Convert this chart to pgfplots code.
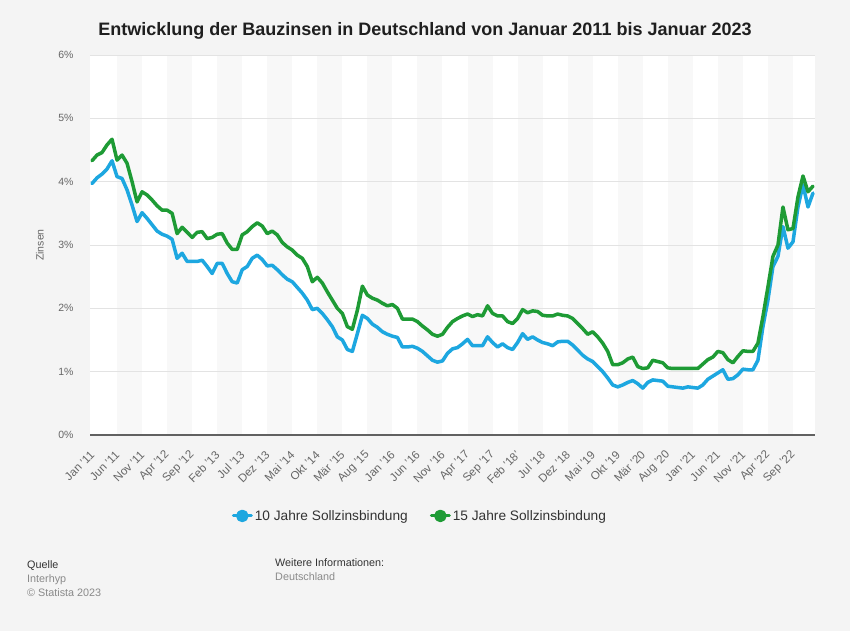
\documentclass[border=0pt]{standalone}
\usepackage{pgfplots}
\usepackage{pgfplotstable}
\pgfplotsset{compat=1.18}
\usepackage{fontspec}
\setmainfont{Liberation Sans}
\definecolor{pagebg}{HTML}{F4F4F4}
\definecolor{stripe}{HTML}{F8F8F8}
\definecolor{bblue}{HTML}{1DA7E0}
\definecolor{bgreen}{HTML}{1E9B35}
\definecolor{ticktext}{HTML}{666666}
\definecolor{darktext}{HTML}{333333}
\definecolor{foottext}{HTML}{8A8A8A}

\pgfplotstableread{
m a b
0 3.97 4.33
1 4.06 4.42
2 4.12 4.46
3 4.20 4.58
4 4.33 4.67
5 4.08 4.34
6 4.05 4.42
7 3.87 4.29
8 3.63 4.00
9 3.37 3.68
10 3.51 3.84
11 3.42 3.79
12 3.32 3.71
13 3.22 3.62
14 3.17 3.55
15 3.14 3.55
16 3.09 3.50
17 2.79 3.18
18 2.87 3.28
19 2.74 3.20
20 2.74 3.12
21 2.74 3.20
22 2.76 3.21
23 2.66 3.10
24 2.55 3.12
25 2.71 3.17
26 2.71 3.18
27 2.55 3.03
28 2.42 2.93
29 2.40 2.93
30 2.61 3.16
31 2.66 3.21
32 2.79 3.29
33 2.84 3.35
34 2.77 3.30
35 2.67 3.18
36 2.68 3.22
37 2.61 3.16
38 2.53 3.04
39 2.46 2.97
40 2.42 2.92
41 2.33 2.84
42 2.24 2.79
43 2.13 2.66
44 1.98 2.42
45 2.00 2.49
46 1.92 2.40
47 1.82 2.26
48 1.71 2.13
49 1.55 2.00
50 1.50 1.92
51 1.35 1.71
52 1.32 1.67
53 1.60 1.97
54 1.89 2.35
55 1.84 2.21
56 1.75 2.16
57 1.70 2.13
58 1.63 2.08
59 1.59 2.04
60 1.56 2.06
61 1.54 2.00
62 1.39 1.83
63 1.39 1.83
64 1.40 1.83
65 1.37 1.79
66 1.32 1.72
67 1.25 1.66
68 1.18 1.59
69 1.15 1.56
70 1.17 1.59
71 1.29 1.70
72 1.36 1.79
73 1.38 1.84
74 1.44 1.88
75 1.51 1.91
76 1.41 1.87
77 1.41 1.90
78 1.41 1.88
79 1.55 2.04
80 1.46 1.92
81 1.39 1.88
82 1.44 1.88
83 1.38 1.79
84 1.35 1.76
85 1.46 1.84
86 1.60 1.98
87 1.51 1.93
88 1.55 1.96
89 1.50 1.95
90 1.46 1.89
91 1.44 1.88
92 1.41 1.88
93 1.47 1.91
94 1.48 1.89
95 1.48 1.88
96 1.42 1.84
97 1.34 1.76
98 1.26 1.68
99 1.20 1.59
100 1.16 1.63
101 1.08 1.55
102 1.00 1.45
103 0.90 1.32
104 0.79 1.11
105 0.76 1.11
106 0.79 1.14
107 0.83 1.20
108 0.86 1.23
109 0.81 1.08
110 0.74 1.05
111 0.83 1.06
112 0.87 1.18
113 0.86 1.16
114 0.85 1.14
115 0.77 1.06
116 0.76 1.05
117 0.75 1.05
118 0.74 1.05
119 0.76 1.05
120 0.75 1.05
121 0.74 1.05
122 0.79 1.12
123 0.88 1.19
124 0.93 1.23
125 0.98 1.32
126 1.03 1.30
127 0.88 1.19
128 0.89 1.14
129 0.95 1.24
130 1.04 1.33
131 1.03 1.32
132 1.03 1.32
133 1.18 1.45
134 1.71 1.87
135 2.13 2.34
136 2.66 2.82
137 2.82 3.00
138 3.29 3.60
139 2.95 3.24
140 3.05 3.26
141 3.60 3.76
142 3.95 4.09
143 3.60 3.84
144 3.82 3.93
}\datatable

\begin{document}
\begin{tikzpicture}
\fill[pagebg] (0,0) rectangle (850bp,631bp);
\node[font=\bfseries\fontsize{18bp}{21bp}\selectfont, text=black!88] at (425bp,600bp)
  {Entwicklung der Bauzinsen in Deutschland von Januar 2011 bis Januar 2023};
\begin{axis}[
  at={(90bp,196bp)}, anchor=south west,
  scale only axis, width=725bp, height=380bp,
  xmin=-0.4, xmax=144.4, ymin=0, ymax=6,
  axis background/.style={fill=white, path picture={
    \foreach \k in {1,3,...,27} {
      \fill[stripe] ([xshift={(5*\k+0.4)*5.00691bp}]path picture bounding box.south west)
        rectangle ([xshift={(5*\k+5.4)*5.00691bp}]path picture bounding box.north west);
    }}},
  axis x line*=bottom, axis y line*=left,
  y axis line style={draw=none},
  x axis line style={line width=2bp, color=black!62},
  major tick length=0pt,
  ymajorgrids,
  grid style={line width=0.8bp, color=black!11},
  ytick={0,1,2,3,4,5,6},
  yticklabels={0\%,1\%,2\%,3\%,4\%,5\%,6\%},
  yticklabel style={font=\fontsize{10.5bp}{12bp}\selectfont, text=ticktext, anchor=east, xshift=-13bp},
  xtick={0,5,...,140},
  xticklabels={Jan '11,Jun '11,Nov '11,Apr '12,Sep '12,Feb '13,Jul '13,Dez '13,Mai '14,Okt '14,Mär '15,Aug '15,Jan '16,Jun '16,Nov '16,Apr '17,Sep '17,Feb '18',Jul '18,Dez '18,Mai '19,Okt '19,Mär '20,Aug '20,Jan '21,Jun '21,Nov '21,Apr '22,Sep '22},
  xticklabel style={rotate=45, anchor=east, font=\fontsize{11.5bp}{13bp}\selectfont, text=ticktext, xshift=-9bp, yshift=-13bp},
  ylabel={Zinsen},
  ylabel style={at={(axis description cs:-0.069,0.5)}, anchor=center, font=\fontsize{10.5bp}{12bp}\selectfont, text=ticktext},
  legend columns=2,
  legend style={at={(0.455,-0.213)}, anchor=center, draw=none, fill=none,
    font=\fontsize{13.7bp}{16bp}\selectfont, text=darktext,
    /tikz/every even column/.append style={column sep=20bp}},
  legend image code/.code={\draw[#1, line width=3bp] (0bp,0bp) -- (18bp,0bp); \fill[#1] (9bp,0bp) circle[radius=4.5bp];},
]
\addplot[bblue, line width=3.5bp, line join=round, line cap=round] table[x=m, y=a] {\datatable};
\addlegendentry{10 Jahre Sollzinsbindung}
\addplot[bgreen, line width=3.5bp, line join=round, line cap=round] table[x=m, y=b] {\datatable};
\addlegendentry{15 Jahre Sollzinsbindung}
\end{axis}
\begin{scope}[font=\fontsize{10.8bp}{12bp}\selectfont]
\node[anchor=base west, text=darktext, inner sep=0] at (27bp,62bp) {Quelle};
\node[anchor=base west, text=foottext, inner sep=0] at (27bp,48bp) {Interhyp};
\node[anchor=base west, text=foottext, inner sep=0] at (27bp,35bp) {© Statista 2023};
\node[anchor=base west, text=darktext, inner sep=0] at (275bp,64bp) {Weitere Informationen:};
\node[anchor=base west, text=foottext, inner sep=0] at (275bp,50bp) {Deutschland};
\end{scope}
\end{tikzpicture}
\end{document}
